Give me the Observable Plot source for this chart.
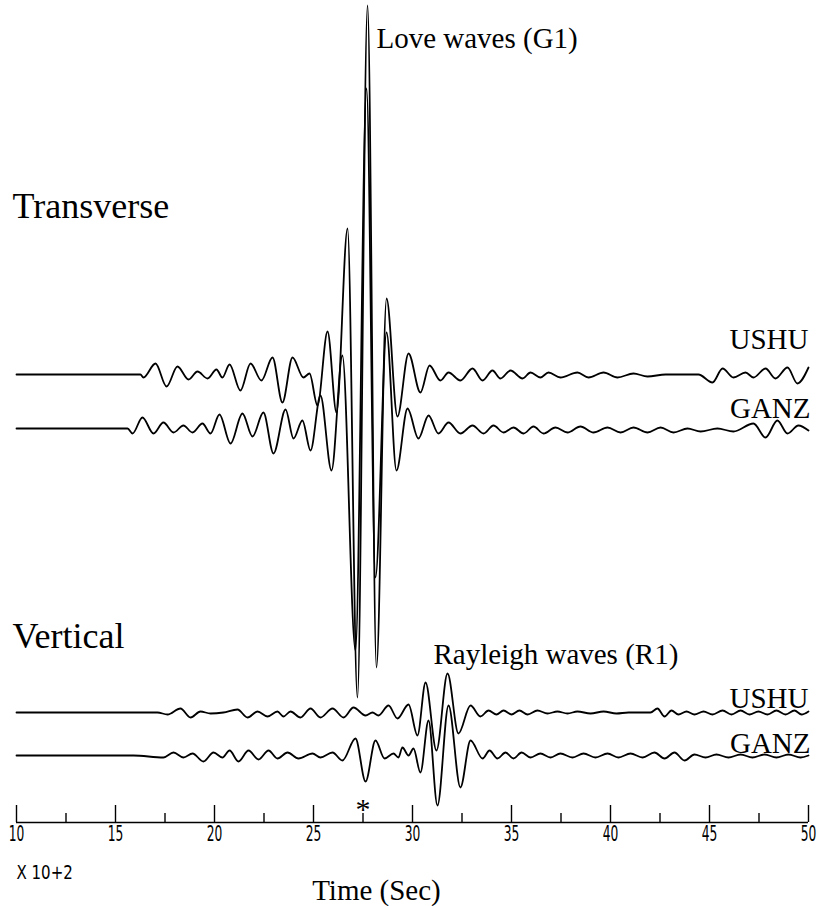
<!DOCTYPE html>
<html><head><meta charset="utf-8">
<script src="https://cdn.jsdelivr.net/npm/d3@7"></script>
<script src="https://cdn.jsdelivr.net/npm/@observablehq/plot@0.6"></script>
<style>
html,body{margin:0;padding:0;background:#fff;}
#chart svg{display:block;}
</style></head><body><div id="chart"></div>
<script>
// Time axis (units of 100 s)
const majorTicks = [10, 15, 20, 25, 30, 35, 40, 45, 50];
const minorTicks = [12.5, 17.5, 22.5, 27.5, 32.5, 37.5, 42.5, 47.5];

// Traces: [time (x100 s), deflection read from the record]
const transverseUSHU = [[10,0],[16.26,0],[16.41,-3],[17.02,11],[17.58,-12],[18.13,8],[18.69,-5],[19.14,3],[19.65,-4],[20.10,5],[20.40,-3],[20.76,10],[21.31,-16],[21.82,11],[22.37,-6],[22.93,17],[23.43,-28],[23.94,17],[24.49,-3],[24.80,1],[25.20,-31],[25.71,43],[26.16,-38],[26.72,146],[27.22,-323],[27.73,369],[28.18,-293],[28.69,76],[29.24,-42],[29.80,21],[30.40,-18],[30.86,9],[31.41,-6],[31.82,2],[32.42,-6],[33.03,6],[33.54,-6],[34.04,4],[34.44,-4],[34.95,4],[35.56,-4],[35.96,2],[36.46,-3],[36.87,2],[37.47,-3],[38.33,2],[38.89,-3],[39.65,2],[40.35,-3],[41.16,1],[41.87,-2],[42.78,0],[44.44,0],[45.15,-8],[45.66,6],[46.21,-3],[46.82,2],[47.22,-3],[47.83,6],[48.33,-4],[48.94,7],[49.44,-9],[50,7]];
const transverseGANZ = [[10,0],[15.61,0],[15.86,-5],[16.36,11],[16.92,-5],[17.42,6],[17.93,-4],[18.43,3],[18.89,-4],[19.39,5],[19.80,-5],[20.25,14],[20.81,-15],[21.41,15],[21.92,-8],[22.47,16],[22.98,-25],[23.59,19],[23.99,-10],[24.44,8],[24.85,-22],[25.35,33],[25.91,-42],[26.46,73],[27.12,-222],[27.68,340],[28.13,-149],[28.69,96],[29.19,-42],[29.75,20],[30.30,-10],[30.81,13],[31.31,-5],[31.82,6],[32.42,-5],[33.03,3],[33.59,-5],[34.09,3],[34.60,-4],[35.10,1],[35.61,-5],[36.11,2],[36.62,-5],[37.22,1],[37.83,-4],[38.48,2],[39.14,-4],[39.85,1],[40.51,-4],[41.16,1],[41.87,-4],[42.53,1],[43.18,-4],[43.89,0],[44.55,-3],[45.40,0],[46.21,-3],[47.22,5],[47.83,-9],[48.43,8],[48.94,-5],[49.49,3],[50,-2]];
const verticalUSHU = [[10,0],[17.12,0],[17.63,-2],[18.28,4],[18.79,-5],[19.29,1],[19.80,-1],[20.45,0],[21.16,3],[21.67,-5],[22.17,1],[22.68,-4],[23.18,1],[23.48,-4],[23.84,1],[24.34,-5],[24.85,4],[25.35,-5],[25.96,4],[26.52,-5],[27.02,5],[27.63,-3],[27.98,0],[28.28,-3],[28.79,7],[29.24,-6],[29.80,8],[30.25,-23],[30.66,30],[31.21,-38],[31.77,39],[32.32,-21],[32.93,7],[33.43,-4],[33.84,2],[34.24,-2],[34.60,2],[35.0,-2],[35.40,2],[35.81,-2],[36.31,2],[36.82,-1],[37.32,1],[37.83,-1],[38.33,1],[38.99,-1],[39.65,1],[40.30,-1],[40.91,0],[42.02,0],[42.37,4],[42.73,-4],[43.08,2],[43.43,-2],[43.84,1],[44.24,-2],[44.70,1],[45.15,-2],[45.66,2],[46.11,-2],[46.57,2],[47.02,-2],[47.47,1],[47.93,-2],[48.38,2],[48.84,-2],[49.29,2],[49.65,-2],[50,1]];
const verticalGANZ = [[10,0],[15.91,0],[17.42,-2],[17.93,3],[18.43,-2],[18.89,2],[19.44,-6],[19.95,3],[20.40,-2],[20.76,5],[21.21,-6],[21.72,5],[22.22,-4],[22.73,5],[23.18,-3],[23.69,3],[24.24,-3],[24.95,2],[25.35,-2],[25.96,3],[26.46,-5],[27.12,17],[27.63,-26],[28.13,15],[28.59,-3],[29.04,2],[29.29,-2],[29.49,8],[29.80,0],[30.05,7],[30.40,-17],[30.81,35],[31.26,-50],[31.82,50],[32.42,-32],[32.93,15],[33.54,-3],[33.89,5],[34.29,-3],[34.70,3],[35.10,-3],[35.51,3],[35.96,-2],[36.46,2],[36.97,-2],[37.47,2],[38.08,-2],[38.64,2],[39.24,-2],[39.85,2],[40.40,-2],[41.01,2],[41.62,-2],[42.22,3],[42.73,-3],[43.23,3],[43.74,-5],[44.24,1],[44.80,-2],[45.35,1],[45.96,-2],[46.57,1],[47.17,-2],[47.78,1],[48.38,-2],[48.99,1],[49.60,-2],[50,0]];

const stations = ["USHU", "GANZ"];
const components = ["Transverse", "Vertical"];
const waveLabels = ["Love waves (G1)", "Rayleigh waves (R1)"];

// layout: plot units are pixels above the time axis
const AXIS = 822;
const traces = [
  {id: "T-USHU", base: 374, pts: transverseUSHU},
  {id: "T-GANZ", base: 428, pts: transverseGANZ},
  {id: "V-USHU", base: 712, pts: verticalUSHU},
  {id: "V-GANZ", base: 755, pts: verticalGANZ}
];
const rows = traces.flatMap(tr => tr.pts.map(([t, a]) => ({trace: tr.id, t, y: AXIS - tr.base + a})));
const Y = px => AXIS - px;

const serif = "'Liberation Serif','Times New Roman',Times,serif";
const narrow = "'Liberation Sans Narrow','DejaVu Sans Condensed',sans-serif";

const chart = Plot.plot({
  width: 818, height: 906,
  marginLeft: 16, marginRight: 10, marginTop: 0, marginBottom: 84,
  x: {domain: [10, 50]},
  y: {domain: [0, AXIS], axis: null},
  style: {background: "white", color: "black", overflow: "visible"},
  marks: [
    Plot.ruleY([0], {stroke: "black", strokeWidth: 1.6}),
    Plot.ruleX(majorTicks, {x: d => d, y1: 0, y2: 17, stroke: "black", strokeWidth: 1.4}),
    Plot.ruleX(minorTicks, {x: d => d, y1: 0, y2: 9, stroke: "black", strokeWidth: 1.4}),
    Plot.axisX(majorTicks, {tickSize: 0, tickPadding: 3, fontSize: 22, fontFamily: narrow, tickFormat: d => String(d), label: null}),
    Plot.line(rows, {x: "t", y: "y", z: "trace", curve: "monotone-x", stroke: "black", strokeWidth: 1.8}),
    Plot.text([components[0]], {x: 10, y: Y(217), dx: -4, textAnchor: "start", lineAnchor: "bottom", fontSize: 36, fontFamily: serif, fill: "black"}),
    Plot.text([components[1]], {x: 10, y: Y(647), dx: -4, textAnchor: "start", lineAnchor: "bottom", fontSize: 36, fontFamily: serif, fill: "black"}),
    Plot.text([waveLabels[0]], {x: 28.18, y: Y(47), textAnchor: "start", lineAnchor: "bottom", fontSize: 29, fontFamily: serif, fill: "black"}),
    Plot.text([waveLabels[1]], {x: 31.06, y: Y(663), textAnchor: "start", lineAnchor: "bottom", fontSize: 29, fontFamily: serif, fill: "black"}),
    Plot.text([stations[0]], {x: 50, y: Y(348), textAnchor: "end", lineAnchor: "bottom", fontSize: 29, fontFamily: serif, fill: "black"}),
    Plot.text([stations[1]], {x: 50, dx: 2, y: Y(417), textAnchor: "end", lineAnchor: "bottom", fontSize: 29, fontFamily: serif, fill: "black"}),
    Plot.text([stations[0]], {x: 50, y: Y(707), textAnchor: "end", lineAnchor: "bottom", fontSize: 29, fontFamily: serif, fill: "black"}),
    Plot.text([stations[1]], {x: 50, dx: 2, y: Y(752), textAnchor: "end", lineAnchor: "bottom", fontSize: 29, fontFamily: serif, fill: "black"}),
    Plot.text(["*"], {x: 27.5, y: Y(818), textAnchor: "middle", lineAnchor: "bottom", fontSize: 30, fontFamily: serif, fill: "black"}),
    Plot.text(["X 10+2"], {x: 10, y: Y(878), textAnchor: "start", lineAnchor: "bottom", fontSize: 19, fontFamily: narrow, fill: "black"}),
    Plot.text(["Time (Sec)"], {x: 28.18, y: Y(899), textAnchor: "middle", lineAnchor: "bottom", fontSize: 29, fontFamily: serif, fill: "black"})
  ]
});
document.getElementById("chart").appendChild(chart);

// condensed plotter-style numerals
function squeeze(el, s) {
  const t = el.getAttribute("transform") || "";
  el.setAttribute("transform", t + ` scale(${s},1)`);
}
chart.querySelectorAll('g[aria-label="x-axis tick label"] text').forEach(el => squeeze(el, 0.62));
chart.querySelectorAll('text').forEach(el => { if (el.textContent === "X 10+2") squeeze(el, 0.88); });
</script>
</body></html>
